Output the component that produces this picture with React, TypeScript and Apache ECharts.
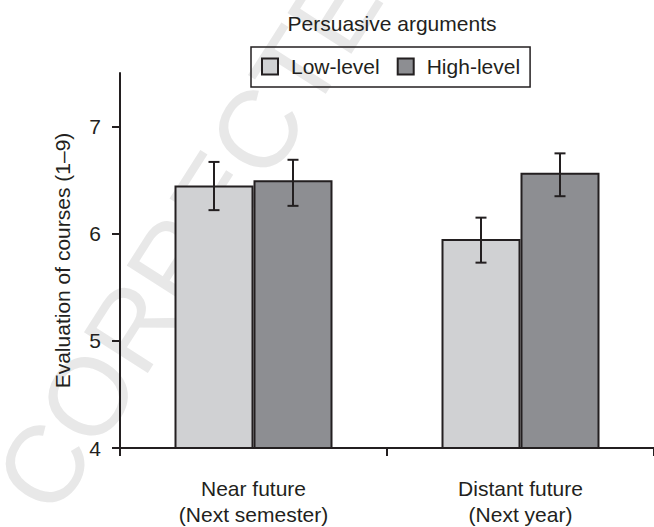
import React, { useEffect, useRef } from 'react';
import * as echarts from 'echarts';

const categories = ['Near future\n(Next semester)', 'Distant future\n(Next year)'];
const seriesNames = ['Low-level', 'High-level'];
const lowLevelMeans = [6.45, 5.95];
const highLevelMeans = [6.5, 6.57];
const lowLevelErrUpper = [6.67, 6.15];
const lowLevelErrLower = [6.22, 5.73];
const highLevelErrUpper = [6.69, 6.75];
const highLevelErrLower = [6.26, 6.35];
const yTicks = [4, 5, 6, 7];
const yAxisTitle = 'Evaluation of courses (1–9)';
const legendTitle = 'Persuasive arguments';
const watermark = 'CORRECTED';

const INK = '#231f20';
const FONT = '"Liberation Sans", Arial, Helvetica, sans-serif';
const LIGHT = '#d0d1d3';
const DARK = '#8d8e92';
const BAR_W = 79;

function errorSeries(name: string, upper: number[], lower: number[], offset: number) {
  return {
    type: 'custom',
    name: name + ' error',
    z: 5,
    data: upper.map((u, i) => [i, u, lower[i]]),
    encode: { x: 0, y: [1, 2] },
    renderItem: (params: any, api: any) => {
      const top = api.coord([api.value(0), api.value(1)]);
      const bot = api.coord([api.value(0), api.value(2)]);
      const cx = top[0] + offset;
      const cap = 5.5;
      const style = { stroke: INK, lineWidth: 2 };
      return {
        type: 'group',
        children: [
          { type: 'line', shape: { x1: cx, y1: top[1], x2: cx, y2: bot[1] }, style },
          { type: 'line', shape: { x1: cx - cap, y1: top[1], x2: cx + cap, y2: top[1] }, style },
          { type: 'line', shape: { x1: cx - cap, y1: bot[1], x2: cx + cap, y2: bot[1] }, style },
        ],
      };
    },
  };
}

export default function App() {
  const ref = useRef<HTMLDivElement>(null);
  useEffect(() => {
    if (!ref.current) return;
    const chart = echarts.init(ref.current, null, { renderer: 'svg' });
    const option: any = {
      animation: false,
      backgroundColor: '#ffffff',
      textStyle: { fontFamily: FONT, color: INK },
      graphic: [
        {
          type: 'text',
          z: -10,
          x: 22,
          y: 499,
          rotation: (57.5 * Math.PI) / 180,
          style: {
            text: watermark,
            fill: '#e8e8e8',
            font: '110px "Liberation Sans", Arial, sans-serif',
            align: 'left',
            verticalAlign: 'middle',
          },
        },
        {
          type: 'text',
          x: 392,
          y: 23,
          style: {
            text: legendTitle,
            fill: INK,
            font: '21px ' + FONT,
            align: 'center',
            verticalAlign: 'middle',
          },
        },
      ],
      legend: {
        data: seriesNames,
        left: 251,
        top: 47,
        orient: 'horizontal',
        padding: [9, 10, 10, 10],
        itemGap: 17,
        itemWidth: 16,
        itemHeight: 16,
        icon: 'rect',
        borderColor: INK,
        borderWidth: 1.5,
        borderRadius: 0,
        itemStyle: { borderColor: INK, borderWidth: 2 },
        textStyle: { fontSize: 21, color: INK, fontFamily: FONT, padding: [0, 0, 0, 8] },
      },
      grid: { left: 120, top: 73, width: 538, height: 379, containLabel: false },
      xAxis: {
        type: 'category',
        data: categories,
        axisLine: { show: true, lineStyle: { color: INK, width: 2 } },
        axisTick: { show: true, length: 8, lineStyle: { color: INK, width: 2 } },
        axisLabel: { fontSize: 21, lineHeight: 26, color: INK, fontFamily: FONT, margin: 27 },
        splitLine: { show: false },
      },
      yAxis: {
        type: 'value',
        min: 4,
        max: 7.5,
        interval: 1,
        name: yAxisTitle,
        nameLocation: 'middle',
        nameGap: 47,
        nameTextStyle: { fontSize: 21, color: INK, fontFamily: FONT },
        axisLine: { show: true, lineStyle: { color: INK, width: 2 } },
        axisTick: { show: true, length: 8, customValues: yTicks, lineStyle: { color: INK, width: 2 } },
        axisLabel: { fontSize: 21, color: INK, fontFamily: FONT, margin: 19, customValues: yTicks },
        splitLine: { show: false },
      },
      series: [
        {
          type: 'bar',
          name: seriesNames[0],
          data: lowLevelMeans,
          barWidth: BAR_W,
          barGap: '0%',
          itemStyle: { color: LIGHT, borderColor: INK, borderWidth: 2 },
        },
        {
          type: 'bar',
          name: seriesNames[1],
          data: highLevelMeans,
          barWidth: BAR_W,
          barGap: '0%',
          itemStyle: { color: DARK, borderColor: INK, borderWidth: 2 },
        },
        errorSeries(seriesNames[0], lowLevelErrUpper, lowLevelErrLower, -BAR_W / 2),
        errorSeries(seriesNames[1], highLevelErrUpper, highLevelErrLower, BAR_W / 2),
      ],
    };
    chart.setOption(option);
    return () => chart.dispose();
  }, []);
  return (
    <div
      ref={ref}
      style={{ position: 'fixed', left: 0, top: 0, width: 654, height: 527 }}
    />
  );
}
